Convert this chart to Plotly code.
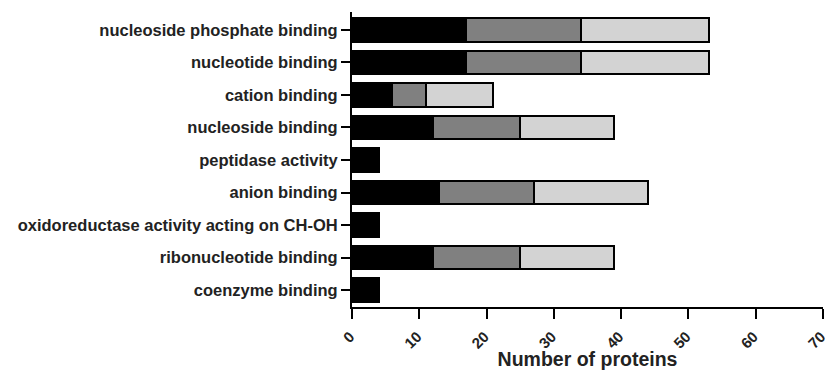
import plotly.graph_objects as go

categories = ["nucleoside phosphate binding", "nucleotide binding", "cation binding",
              "nucleoside binding", "peptidase activity", "anion binding",
              "oxidoreductase activity acting on CH-OH", "ribonucleotide binding",
              "coenzyme binding"]
series1 = [17, 17, 6, 12, 4, 13, 4, 12, 4]
series2 = [17, 17, 5, 13, 0, 14, 0, 13, 0]
series3 = [19, 19, 10, 14, 0, 17, 0, 14, 0]
series_names = ["Group 1", "Group 2", "Group 3"]
colors = ["#000000", "#808080", "#d3d3d3"]
x_ticks = [0, 10, 20, 30, 40, 50, 60, 70]

FONT = "Liberation Sans, Arial, sans-serif"

fig = go.Figure()
for name, vals, col in zip(series_names, [series1, series2, series3], colors):
    fig.add_trace(go.Bar(
        y=categories, x=vals, name=name, orientation="h",
        marker=dict(color=col, line=dict(color="#000000", width=2)),
        width=0.72, showlegend=False,
    ))

fig.update_layout(
    barmode="stack",
    width=828, height=370,
    margin=dict(l=352, r=5, t=12, b=63),
    plot_bgcolor="white", paper_bgcolor="white",
    font=dict(family=FONT, color="#222222"),
    xaxis=dict(
        range=[0, 70], tickvals=x_ticks, tickangle=-45, automargin=False,
        showline=True, linecolor="black", linewidth=2,
        ticks="outside", ticklen=10, tickwidth=2, tickcolor="black",
        showgrid=False, zeroline=False, ticklabeloverflow="allow",
        ticklabelstandoff=3, ticklabelshift=-2,
        tickfont=dict(size=15, family=FONT, weight="bold", color="#222"),
        title=dict(text="Number of proteins",
                   font=dict(size=19.5, family=FONT, weight="bold", color="#222"), standoff=2),
    ),
    yaxis=dict(
        categoryorder="array", categoryarray=categories, autorange=False,
        range=[8.52, -0.55], automargin=False,
        showline=True, linecolor="black", linewidth=2,
        ticks="outside", ticklen=9, tickwidth=2, tickcolor="black",
        showgrid=False, zeroline=False,
        tickfont=dict(size=16.5, family=FONT, weight="bold", color="#222"),
    ),
)
fig.write_html("out.html", config={"displayModeBar": False},
               post_script="document.body.style.margin='0';")
